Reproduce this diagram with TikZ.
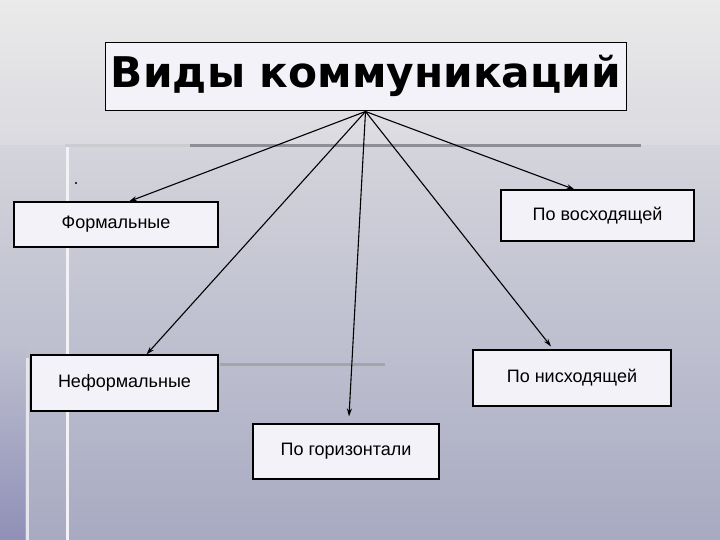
\documentclass[tikz,border=0pt]{standalone}
\usepackage{fontspec}
\setmainfont{Liberation Sans}
\newfontfamily\titlefont{DejaVu Sans Bold}
\usetikzlibrary{arrows.meta}
\definecolor{bgtop}{HTML}{EAEAEA}
\definecolor{bgmid}{HTML}{DADAE0}
\definecolor{bgmidb}{HTML}{D4D4DC}
\definecolor{bgbot}{HTML}{A8AAC2}
\definecolor{boxfill}{HTML}{F2F2F8}
\definecolor{decoline}{HTML}{8E8E96}
\definecolor{leftstrip}{HTML}{9090B8}
\tikzset{
  x=1pt, y=-1pt,
  catbox/.style={draw=black, line width=1.1pt, fill=boxfill, inner sep=0pt,
    font=\fontsize{18}{20}\selectfont},
  arr/.style={draw=black, line width=1.1pt, -{Stealth[length=8pt,width=5pt]}},
}
\begin{document}
\begin{tikzpicture}
\useasboundingbox (0,0) rectangle (720,540);
% background
\shade[top color=bgtop, bottom color=bgmid] (0,0) rectangle (720,146);
\shade[top color=bgmidb, bottom color=bgbot] (0,146) rectangle (720,540);
\shade[top color=bgmidb!51!bgbot, bottom color=leftstrip] (0,340) rectangle (25,540);
% decorative lines
\draw[white!85!bgbot, line width=3pt] (67,146) -- (67,540);
\draw[white!70!bgbot, line width=3pt] (27,358) -- (27,540);
\draw[decoline!45!white, line width=3pt] (65,146) -- (190,146);
\draw[decoline, line width=3pt] (190,146) -- (641,146);
\draw[decoline!80!white, line width=3pt] (220,364) -- (385,364);
\fill[black] (76,183) circle (1.2pt);
% title
\node[draw=black, line width=1pt, fill=boxfill, minimum width=521pt, minimum height=68pt, inner sep=0pt]
  (title) at (365.5,77) {};
\node (titletext) at (366,76) {\titlefont\fontsize{43}{47}\selectfont\resizebox{510pt}{!}{Виды коммуникаций}};
% categories
\node[catbox, minimum width=204pt, minimum height=45pt] (f) at (116,224.5) {Формальные};
\node[catbox, minimum width=193pt, minimum height=51pt] (up) at (597.5,215.5) {По восходящей};
\node[catbox, minimum width=187pt, minimum height=56pt] (nf) at (124.5,383) {Неформальные};
\node[catbox, minimum width=186pt, minimum height=55pt] (gor) at (346,451.5) {По горизонтали};
\node[catbox, minimum width=198pt, minimum height=56pt] (down) at (572,378) {По нисходящей};
% connectors
\coordinate (hub) at (title.south);
\draw[arr] (hub) -- ([xshift=13pt]f.north);
\draw[arr] (hub) -- ([xshift=-23pt]up.north);
\draw[arr] (hub) -- ([xshift=22pt]nf.north);
\draw[arr] (hub) -- ([xshift=3pt,yshift=7pt]gor.north);
\draw[arr] (hub) -- ([xshift=-21pt,yshift=3pt]down.north);
\end{tikzpicture}
\end{document}
